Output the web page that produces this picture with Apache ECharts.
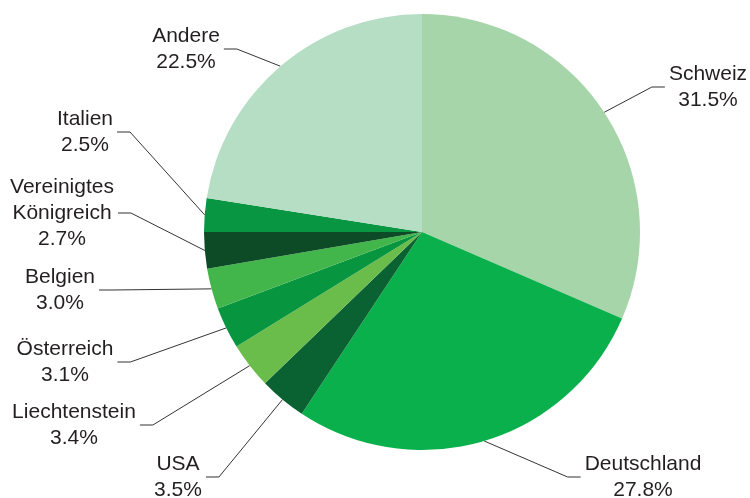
<!DOCTYPE html>
<html>
<head>
<meta charset="utf-8">
<script src="https://cdn.jsdelivr.net/npm/echarts@6/dist/echarts.min.js"></script>
<style>html,body{margin:0;padding:0;background:#fff}#c{width:750px;height:498px}</style>
</head>
<body>
<div id="c"></div>
<script>
const categories = ['Schweiz','Deutschland','USA','Liechtenstein','Österreich','Belgien','Vereinigtes\nKönigreich','Italien','Andere'];
const values = [31.5, 27.8, 3.5, 3.4, 3.1, 3.0, 2.7, 2.5, 22.5];
const labelTexts = ['31.5%','27.8%','3.5%','3.4%','3.1%','3.0%','2.7%','2.5%','22.5%'];
const colors = ['#a6d5a9','#09b04b','#0a6131','#6bbd4b','#07963f','#42b64a','#0c4b25','#089643','#b5dec4'];
// label block centres (layout only)
const labelPos = [[708,87],[643,477],[178,477],[74,425],[65,362],[60,290],[62,213],[85,132],[186,49]];

const CX = 422, CY = 232, R = 218;
const chart = echarts.init(document.getElementById('c'), null, {renderer:'canvas'});
const total = values.reduce((a,b)=>a+b,0);

chart.setOption({
  animation:false,
  series:[{
    type:'pie',
    center:[CX,CY],
    radius:[0,R],
    startAngle:90,
    clockwise:true,
    avoidLabelOverlap:false,
    itemStyle:{borderWidth:0},
    data: categories.map((c,i)=>({name:c, value:values[i], itemStyle:{color:colors[i]}})),
    label:{
      show:true,
      formatter:(p)=>p.name+'\n'+labelTexts[p.dataIndex],
      fontFamily:'"Liberation Sans", Arial, sans-serif',
      fontSize:21,
      lineHeight:26,
      color:'#231f20',
      align:'center'
    },
    labelLine:{show:true, length:15, length2:15, lineStyle:{color:'#333', width:1}},
    labelLayout:function(params){
      const i = params.dataIndex;
      const [lx, ly] = labelPos[i];
      const w = params.labelRect.width;
      let cum = 0;
      for (let k=0;k<i;k++) cum += values[k];
      const mid = (cum + values[i]/2)/total*2*Math.PI;
      const start = [CX + R*Math.sin(mid), CY - R*Math.cos(mid)];
      const right = lx > CX;
      const endX = right ? lx - w/2 - 4 : lx + w/2 + 4;
      const elbowX = right ? endX - 13 : endX + 13;
      return {
        x: lx, y: ly, align:'center', verticalAlign:'middle',
        labelLinePoints:[start,[elbowX,ly],[endX,ly]]
      };
    }
  }]
});
</script>
</body>
</html>
